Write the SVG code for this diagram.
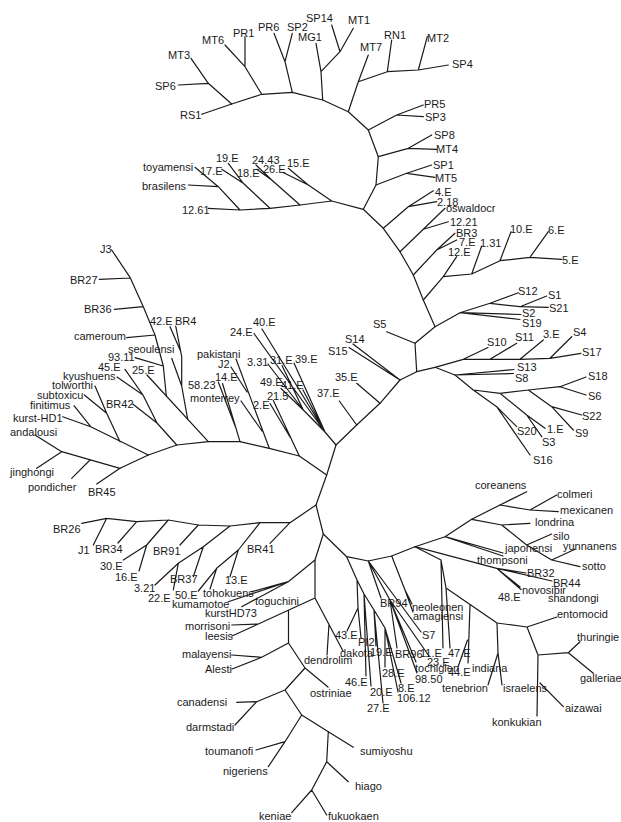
<svg xmlns="http://www.w3.org/2000/svg" width="621" height="822" viewBox="0 0 621 822">
<style>
.e{fill:none;stroke:#1a1a1a;stroke-width:1.2;stroke-linejoin:round;stroke-linecap:round}
text{font-family:"Liberation Sans",Arial,sans-serif;font-size:11px;fill:#1a1a1a}
</style>
<rect width="621" height="822" fill="#fff"/>
<g id="edges" class="e">
<path d="M201.7,114.3 L231.7,104 L261.7,94.3 L292.3,92.3 L322.7,100 L348.3,111.7 L368.3,130 L378.3,156.7 L376,185 L363.3,209.3 L383.3,228.3 L400,251.7 L413.3,275 L423.3,300 L435,326.7 L415,343.3 L416.7,371.7 L400,380 L380,403.3 L356.7,425 L336,445 L326.7,475 L316,505 L323.3,534 L346.7,556.7 L368.3,561 L391.7,556 L415,546.7 L445,536.7 L471.7,519.3 L500,505 L526.7,491.7"/>
<path d="M326.7,475 L299.3,456 L269.3,448.3 L240,441.7 L208.3,441.7 L176.7,445 L148.3,455 L120,468.3"/>
<path d="M231.7,104 L208.3,83.3 L191,58.3 M178.3,85 L208.3,83.3"/>
<path d="M261.7,94.3 L245,66.7 L225,45 M245,66.7 L245,36.7"/>
<path d="M292.3,92.3 L285,61.7 L274,33.3 M285,61.7 L292.3,33.3"/>
<path d="M322.7,100 L321,71.7 L316,43.3 M321,71.7 L340,51.7 L331.7,25 M340,51.7 L353.3,28.3"/>
<path d="M348.3,111.7 L358.3,81.7 L368.3,55 M358.3,81.7 L387.3,71.7 L391.7,40 M387.3,71.7 L418.3,70 L427.3,36.7 M418.3,70 L448.3,65"/>
<path d="M368.3,130 L396.7,115 L423.3,105 M396.7,115 L423.3,116.7"/>
<path d="M378.3,156.7 L408.3,148.3 L431.7,135 M408.3,148.3 L436.7,149.3"/>
<path d="M376,185 L406.7,173.3 L431.7,165 M406.7,173.3 L435,177.3"/>
<path d="M363.3,209.3 L331.7,201 L300,205 L270,208.3 L240,210 L208.3,208.3 M240,210 L218.3,186.7 L195,167.3 M188.3,185 L218.3,186.7 M270,208.3 L243.3,183.3 L221.7,169.3 M243.3,183.3 L228.3,163.3 M300,205 L271.7,180 L256.7,169.3 M271.7,180 L256,165 M331.7,201 L308.3,185 L282.7,172.3 M308.3,185 L288.3,168.3"/>
<path d="M383.3,228.3 L408.3,206.7 L433.3,190.7 M408.3,206.7 L436.7,201.7"/>
<path d="M400,251.7 L423.3,229.3 L445,208.3 M423.3,229.3 L448.3,221.7"/>
<path d="M413.3,275 L436.7,250 L455,233.3 M436.7,250 L456.7,240"/>
<path d="M423.3,300 L443.3,276.7 L456.7,256.7 M443.3,276.7 L471.7,274 L500,260.7 L530,257.3 L561.7,259.3 M471.7,274 L481.7,246 M500,260.7 L511,231.7 M530,257.3 L548.3,231.7"/>
<path d="M435,326.7 L460,312.7 L490,303.3 L518.3,292.7 M490,303.3 L520,306.7 L546.7,296 M520,306.7 L548.3,307.3 M460,312.7 L521,314.5 M460,312.7 L520,319.5"/>
<path d="M416.7,371.7 L435,367.3 L463.3,359.3 L490,359.3 L520,359.3 L550,358.3 L581,353.3 M463.3,359.3 L488,347.5 M490,359.3 L516.7,343.3 M520,359.3 L543.3,340 M550,358.3 L571.7,336.7"/>
<path d="M435,367.3 L455,375 L514,369.5 M455,375 L513.5,373.5"/>
<path d="M455,375 L473.3,390 L500,393.3 L528.3,390 L560,386.7 L586,377 M560,386.7 L586,395 M528.3,390 L551.7,406.7 L581.7,415 M551.7,406.7 L573.3,430 M500,393.3 L526.7,415 L545,428.3 M526.7,415 L541.7,436.7 M473.3,390 L496.7,406.7 L516.7,426.7 M496.7,406.7 L530,455"/>
<path d="M386.7,331.7 L415,343.3"/>
<path d="M349,347.5 L400,380 M353,344 L400,380"/>
<path d="M380,403.3 L356.7,383.3"/>
<path d="M356.7,425 L339.3,401"/>
<path d="M336,445 L325,432 L303.3,410 M325,432 L262,329 M325,432 L254,333.5 M325,432 L294,363 M325,432 L303,390 M303.3,410 L268,364 M303.3,410 L282,365.5 M303.3,410 L281,388.5"/>
<path d="M299.3,456 L273.3,400.5 M290,437 L270,403.5"/>
<path d="M269.3,448.3 L236,359 M247,392 L231,367 M262,431 L241,401"/>
<path d="M240,441.7 L222.5,383.5 M235.5,427 L218.3,382"/>
<path d="M208.3,441.7 L147,375"/>
<path d="M166.3,396 L163.3,366 L155,335 L143.3,306.7 L130,277.3 L111.7,250 M99.3,279.3 L130,278 M114.3,309.3 L143.3,306.7 M126.7,337.7 L155,335 M135,357.7 L163.3,366"/>
<path d="M187.7,419.3 L181.7,386 L181.7,356.7 L175.7,326 M180.5,351 L170,326.7 M181.7,386 L171.7,358.3"/>
<path d="M176.7,445 L157,423 L143,395 L125,369.3 M143,395 L117,377 M157,423 L132.7,404"/>
<path d="M148.3,455 L90.7,426.7 L62.7,416.7 M90.7,426.7 L74,405.7 M120,441.7 L106.7,413.3 L95,386 M106.7,413.3 L84.3,395"/>
<path d="M120,468.3 L61.7,451.7 L35,435 M61.7,451.7 L36.7,468.3 M90,460 L71.7,478.3 M120,468.3 L96.7,484"/>
<path d="M316,505 L290,522.7 L260,522.7 L230,526 L198.3,525 L168.3,520 L136.7,521.7 L106.7,518.3 L81.7,523.3 M106.7,518.3 L93.3,545 M136.7,521.7 L118,543 M168.3,520 L146.7,545 L123.3,560 M146.7,545 L139,571 M198.3,525 L180,545 M230,526 L203.3,546.7 L178.3,563.3 L155,585 M178.3,563.3 L173.3,590 M203.3,546.7 L193.3,576.7 M260,522.7 L238.3,550 L216.7,568.3 L198.3,591 M216.7,568.3 L210,589 M238.3,550 L230,576.7 M290,522.7 L270,543.3"/>
<path d="M323.3,534 L315,560 L288.3,581.7 M288.3,581.7 L251.7,591.7 M288.3,581.7 L228.3,601.7 M288.3,581.7 L241.7,606.7"/>
<path d="M315,560 L315,598 L258.3,624 L231.7,625 M258.3,624 L232,636 M288.5,611 L288.5,643 L261.7,657.3 L231.7,655 M261.7,657.3 L232,669 M288.5,643 L305,668 L328,687 M305,668 L285,690 L256.7,701.7 L236.7,702.3 M256.7,701.7 L235,725 M285,690 L301.7,715 L285,741.7 L256,750 M285,741.7 L268.3,766.7 M301.7,715 L328.3,731.7 L353.3,747.3 M328.3,731.7 L326.7,761.7 L348.3,781.7 M326.7,761.7 L311.7,790 L291.7,812.7 M311.7,790 L326.7,815 M315,598 L343,651 M329,624 L327,655"/>
<path d="M346.7,556.7 L357,580 L358,608 L347,631 M358,608 L361,638 M357,580 L364,594 L366,676 M364,594 L371,686 M364,594 L374,610 L383,703 M374,610 L376,646 M374,610 L385,628 L385,667 M385,628 L401,683 M385,628 L398,692"/>
<path d="M368.3,561 L421,632 M368.3,561 L381,598 M368.3,561 L390,600 L397,648 M390,600 L416,662 M390,600 L417,673 M390,600 L429,656"/>
<path d="M391.7,556 L405,590 L412,604 M405,590 L413,612"/>
<path d="M415,546.7 L441,560 L443,648 M441,560 L446,588 L450,648 M446,588 L497,623 L527,627 L557,617 M527,627 L538,655 L568.3,652.7 L580,641.7 M568.3,652.7 L593.3,673.3 M538,655 L537,716 M540,683 L563.3,706.7 M497,623 L498,653 L488,685 M498,653 L502,685 M470,605 L468,663 M467.5,640 L458,667"/>
<path d="M415,546.7 L496.7,568.3 L526,573 M496.7,568.3 L552,581 M496.7,568.3 L520,587 M496.7,568.3 L521,589.5"/>
<path d="M445,536.7 L503,553 M445,536.7 L503,556"/>
<path d="M471.7,519.3 L501.7,525 L530,523.3 M500,505 L530,510 L556.7,495 M530,510 L558.3,511.7 M501.7,525 L526.7,545 L551.7,534 M526.7,545 L551.7,560 L580,566.7 M551.7,560 L575,549.3"/>
</g>
<g id="labels">
<g id="n-SP6"><text x="155" y="90">SP6</text></g>
<g id="n-MT3"><text x="168" y="59">MT3</text></g>
<g id="n-RS1"><text x="180" y="119">RS1</text></g>
<g id="n-MT6"><text x="202" y="44">MT6</text></g>
<g id="n-PR1"><text x="233" y="37">PR1</text></g>
<g id="n-PR6"><text x="258" y="31">PR6</text></g>
<g id="n-SP2"><text x="287" y="31">SP2</text></g>
<g id="n-SP14"><text x="306" y="22">SP14</text></g>
<g id="n-MG1"><text x="298" y="41">MG1</text></g>
<g id="n-MT1"><text x="348" y="24">MT1</text></g>
<g id="n-MT7"><text x="360" y="51">MT7</text></g>
<g id="n-RN1"><text x="384" y="39">RN1</text></g>
<g id="n-MT2"><text x="427" y="42">MT2</text></g>
<g id="n-SP4"><text x="452" y="68">SP4</text></g>
<g id="n-PR5"><text x="424" y="108">PR5</text></g>
<g id="n-SP3"><text x="425" y="121">SP3</text></g>
<g id="n-SP8"><text x="434" y="139">SP8</text></g>
<g id="n-MT4"><text x="436" y="153">MT4</text></g>
<g id="n-SP1"><text x="433" y="169">SP1</text></g>
<g id="n-MT5"><text x="435" y="182">MT5</text></g>
<g id="n-4E"><text x="435" y="196">4.E</text></g>
<g id="n-2-18"><text x="437" y="206">2.18</text></g>
<g id="n-oswaldocr"><text x="446" y="212">oswaldocr</text></g>
<g id="n-12-21"><text x="450" y="226">12.21</text></g>
<g id="n-BR3"><text x="456" y="237">BR3</text></g>
<g id="n-7E"><text x="459" y="246">7.E</text></g>
<g id="n-12E"><text x="448" y="256">12.E</text></g>
<g id="n-1-31"><text x="480" y="247">1.31</text></g>
<g id="n-10E"><text x="510" y="233">10.E</text></g>
<g id="n-6E"><text x="548" y="234">6.E</text></g>
<g id="n-5E"><text x="562" y="264">5.E</text></g>
<g id="n-toyamensi"><text x="143" y="171">toyamensi</text></g>
<g id="n-brasilens"><text x="142" y="190">brasilens</text></g>
<g id="n-12-61"><text x="182" y="214">12.61</text></g>
<g id="n-17E"><text x="200" y="175">17.E</text></g>
<g id="n-19E-a"><text x="216" y="162">19.E</text></g>
<g id="n-18E"><text x="237" y="177">18.E</text></g>
<g id="n-24-43"><text x="252" y="164">24.43</text></g>
<g id="n-26E"><text x="263" y="173">26.E</text></g>
<g id="n-15E"><text x="287" y="167">15.E</text></g>
<g id="n-J3"><text x="100" y="253">J3</text></g>
<g id="n-BR27"><text x="70" y="284">BR27</text></g>
<g id="n-BR36"><text x="84" y="313">BR36</text></g>
<g id="n-cameroum"><text x="74" y="340">cameroum</text></g>
<g id="n-42E"><text x="150" y="325">42.E</text></g>
<g id="n-BR4"><text x="175" y="325">BR4</text></g>
<g id="n-seoulensi"><text x="128" y="353">seoulensi</text></g>
<g id="n-93-11"><text x="108" y="361">93.11</text></g>
<g id="n-45E"><text x="98" y="371">45.E</text></g>
<g id="n-25E"><text x="132" y="374">25.E</text></g>
<g id="n-kyushuens"><text x="63" y="380">kyushuens</text></g>
<g id="n-tolworthi"><text x="52" y="389">tolworthi</text></g>
<g id="n-subtoxicu"><text x="37" y="399">subtoxicu</text></g>
<g id="n-BR42"><text x="106" y="408">BR42</text></g>
<g id="n-finitimus"><text x="30" y="409">finitimus</text></g>
<g id="n-kurst-HD1"><text x="13" y="422">kurst-HD1</text></g>
<g id="n-andalousi"><text x="10" y="436">andalousi</text></g>
<g id="n-jinghongi"><text x="10" y="476">jinghongi</text></g>
<g id="n-pondicher"><text x="28" y="491">pondicher</text></g>
<g id="n-BR45"><text x="88" y="496">BR45</text></g>
<g id="n-24E"><text x="230" y="336">24.E</text></g>
<g id="n-40E"><text x="253" y="326">40.E</text></g>
<g id="n-pakistani"><text x="197" y="358">pakistani</text></g>
<g id="n-J2"><text x="218" y="368">J2</text></g>
<g id="n-3-31"><text x="247" y="366">3.31</text></g>
<g id="n-31E"><text x="270" y="364">31.E</text></g>
<g id="n-39E"><text x="295" y="363">39.E</text></g>
<g id="n-14E"><text x="215" y="381">14.E</text></g>
<g id="n-58-23"><text x="188" y="389">58.23</text></g>
<g id="n-49E"><text x="260" y="386">49.E</text></g>
<g id="n-41E"><text x="281" y="389">41.E</text></g>
<g id="n-21-5"><text x="267" y="400">21.5</text></g>
<g id="n-monterrey"><text x="190" y="402">monterrey</text></g>
<g id="n-2E"><text x="253" y="409">2.E</text></g>
<g id="n-37E"><text x="317" y="397">37.E</text></g>
<g id="n-35E"><text x="335" y="381">35.E</text></g>
<g id="n-S15"><text x="328" y="355">S15</text></g>
<g id="n-S14"><text x="345" y="343">S14</text></g>
<g id="n-S5"><text x="373" y="328">S5</text></g>
<g id="n-S12"><text x="518" y="295">S12</text></g>
<g id="n-S1"><text x="548" y="299">S1</text></g>
<g id="n-S21"><text x="549" y="312">S21</text></g>
<g id="n-S2"><text x="522" y="317">S2</text></g>
<g id="n-S19"><text x="522" y="327">S19</text></g>
<g id="n-S10"><text x="487" y="346">S10</text></g>
<g id="n-S11"><text x="515" y="341">S11</text></g>
<g id="n-3E"><text x="543" y="338">3.E</text></g>
<g id="n-S4"><text x="573" y="336">S4</text></g>
<g id="n-S17"><text x="582" y="356">S17</text></g>
<g id="n-S13"><text x="517" y="371">S13</text></g>
<g id="n-S8"><text x="515" y="382">S8</text></g>
<g id="n-S18"><text x="588" y="380">S18</text></g>
<g id="n-S6"><text x="588" y="400">S6</text></g>
<g id="n-S22"><text x="582" y="420">S22</text></g>
<g id="n-S9"><text x="575" y="437">S9</text></g>
<g id="n-1E"><text x="547" y="433">1.E</text></g>
<g id="n-S20"><text x="517" y="435">S20</text></g>
<g id="n-S3"><text x="542" y="446">S3</text></g>
<g id="n-S16"><text x="533" y="464">S16</text></g>
<g id="n-BR26"><text x="53" y="533">BR26</text></g>
<g id="n-J1"><text x="78" y="554">J1</text></g>
<g id="n-BR34"><text x="95" y="553">BR34</text></g>
<g id="n-BR91"><text x="153" y="555">BR91</text></g>
<g id="n-BR41"><text x="247" y="553">BR41</text></g>
<g id="n-30E"><text x="100" y="570">30.E</text></g>
<g id="n-16E"><text x="115" y="581">16.E</text></g>
<g id="n-BR37"><text x="170" y="583">BR37</text></g>
<g id="n-13E"><text x="225" y="584">13.E</text></g>
<g id="n-3-21"><text x="134" y="592">3.21</text></g>
<g id="n-22E"><text x="148" y="602">22.E</text></g>
<g id="n-50E"><text x="175" y="599">50.E</text></g>
<g id="n-tohokuens"><text x="203" y="597">tohokuens</text></g>
<g id="n-kumamotoe"><text x="172" y="608">kumamotoe</text></g>
<g id="n-toguchini"><text x="255" y="605">toguchini</text></g>
<g id="n-kurstHD73"><text x="205" y="617">kurstHD73</text></g>
<g id="n-morrisoni"><text x="185" y="630">morrisoni</text></g>
<g id="n-leesis"><text x="205" y="640">leesis</text></g>
<g id="n-malayensi"><text x="182" y="658">malayensi</text></g>
<g id="n-Alesti"><text x="205" y="673">Alesti</text></g>
<g id="n-dendrolim"><text x="304" y="664">dendrolim</text></g>
<g id="n-ostriniae"><text x="310" y="697">ostriniae</text></g>
<g id="n-canadensi"><text x="177" y="706">canadensi</text></g>
<g id="n-darmstadi"><text x="186" y="731">darmstadi</text></g>
<g id="n-toumanofi"><text x="205" y="755">toumanofi</text></g>
<g id="n-nigeriens"><text x="223" y="775">nigeriens</text></g>
<g id="n-sumiyoshu"><text x="360" y="755">sumiyoshu</text></g>
<g id="n-hiago"><text x="355" y="790">hiago</text></g>
<g id="n-keniae"><text x="259" y="820">keniae</text></g>
<g id="n-fukuokaen"><text x="328" y="820">fukuokaen</text></g>
<g id="n-43E"><text x="335" y="639">43.E</text></g>
<g id="n-PI2"><text x="358" y="646">PI2</text></g>
<g id="n-dakota"><text x="340" y="657">dakota</text></g>
<g id="n-19E-b"><text x="370" y="656">19.E</text></g>
<g id="n-BR96"><text x="395" y="658">BR96</text></g>
<g id="n-11E"><text x="420" y="657">11.E</text></g>
<g id="n-47E"><text x="448" y="657">47.E</text></g>
<g id="n-23E"><text x="427" y="666">23.E</text></g>
<g id="n-tochigien"><text x="415" y="672">tochigien</text></g>
<g id="n-44E"><text x="448" y="676">44.E</text></g>
<g id="n-indiana"><text x="472" y="672">indiana</text></g>
<g id="n-28E"><text x="382" y="677">28.E</text></g>
<g id="n-98-50"><text x="415" y="683">98.50</text></g>
<g id="n-46E"><text x="345" y="686">46.E</text></g>
<g id="n-20E"><text x="370" y="696">20.E</text></g>
<g id="n-8E"><text x="398" y="692">8.E</text></g>
<g id="n-tenebrion"><text x="442" y="692">tenebrion</text></g>
<g id="n-106-12"><text x="397" y="702">106.12</text></g>
<g id="n-27E"><text x="367" y="712">27.E</text></g>
<g id="n-S7"><text x="422" y="639">S7</text></g>
<g id="n-BR94"><text x="380" y="607">BR94</text></g>
<g id="n-neoleonen"><text x="412" y="611">neoleonen</text></g>
<g id="n-amagiensi"><text x="413" y="620">amagiensi</text></g>
<g id="n-coreanens"><text x="475" y="489">coreanens</text></g>
<g id="n-colmeri"><text x="557" y="498">colmeri</text></g>
<g id="n-mexicanen"><text x="560" y="514">mexicanen</text></g>
<g id="n-londrina"><text x="535" y="526">londrina</text></g>
<g id="n-silo"><text x="553" y="540">silo</text></g>
<g id="n-yunnanens"><text x="563" y="550">yunnanens</text></g>
<g id="n-japonensi"><text x="505" y="552">japonensi</text></g>
<g id="n-sotto"><text x="582" y="570">sotto</text></g>
<g id="n-thompsoni"><text x="477" y="564">thompsoni</text></g>
<g id="n-BR32"><text x="527" y="577">BR32</text></g>
<g id="n-BR44"><text x="553" y="587">BR44</text></g>
<g id="n-novosibir"><text x="522" y="594">novosibir</text></g>
<g id="n-shandongi"><text x="548" y="602">shandongi</text></g>
<g id="n-48E"><text x="498" y="601">48.E</text></g>
<g id="n-entomocid"><text x="557" y="618">entomocid</text></g>
<g id="n-thuringie"><text x="577" y="641">thuringie</text></g>
<g id="n-galleriae"><text x="580" y="682">galleriae</text></g>
<g id="n-israelens"><text x="503" y="692">israelens</text></g>
<g id="n-aizawai"><text x="565" y="712">aizawai</text></g>
<g id="n-konkukian"><text x="492" y="726">konkukian</text></g>
</g>
</svg>
